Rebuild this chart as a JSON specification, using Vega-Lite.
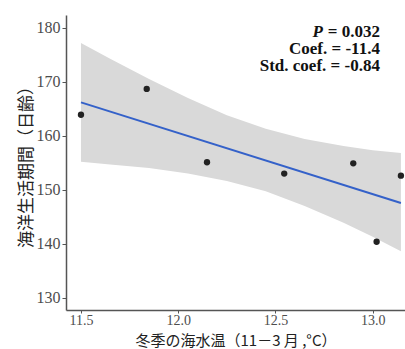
{
  "$schema": "https://vega.github.io/schema/vega-lite/v6.json",
  "width": 339,
  "height": 295,
  "autosize": {"type": "none"},
  "padding": {"left": 66, "top": 15, "right": 0, "bottom": 39},
  "background": "white",
  "config": {
    "view": {"stroke": null},
    "axis": {
      "grid": false,
      "domainColor": "#555555",
      "domainWidth": 1.5,
      "tickColor": "#555555",
      "tickWidth": 1,
      "tickSize": 4,
      "labelFont": "Liberation Serif",
      "labelFontSize": 16,
      "labelColor": "#4d4d4d",
      "titleFont": "Noto Sans CJK JP",
      "titleFontSize": 17,
      "titleFontWeight": "normal",
      "titleColor": "#222222"
    }
  },
  "datasets": {
    "pts": [
      {"temp": 11.5, "days": 163.9},
      {"temp": 11.838, "days": 168.7},
      {"temp": 12.148, "days": 155.1},
      {"temp": 12.545, "days": 153.0},
      {"temp": 12.9, "days": 154.9},
      {"temp": 13.02, "days": 140.35},
      {"temp": 13.145, "days": 152.6}
    ],
    "band": [
      {"temp": 11.5, "lo": 155.2, "hi": 177.2},
      {"temp": 11.65, "lo": 154.7, "hi": 174.3},
      {"temp": 11.85, "lo": 154.05, "hi": 170.55},
      {"temp": 12.05, "lo": 153.0, "hi": 167.0},
      {"temp": 12.25, "lo": 151.6, "hi": 163.8},
      {"temp": 12.45, "lo": 149.7, "hi": 161.3},
      {"temp": 12.65, "lo": 147.0, "hi": 159.4},
      {"temp": 12.85, "lo": 143.9, "hi": 158.1},
      {"temp": 13.0, "lo": 141.3, "hi": 157.3},
      {"temp": 13.145, "lo": 138.6, "hi": 156.8}
    ],
    "notes": [
      {"label": "= 0.032", "tx": 13.037, "ty": 179.3},
      {"label": "Coef. = -11.4", "tx": 13.037, "ty": 176.1},
      {"label": "Std. coef. = -0.84", "tx": 13.037, "ty": 172.9}
    ],
    "pnote": [
      {"label": "P", "tx": 13.037, "ty": 179.3}
    ]
  },
  "layer": [
    {
      "data": {"name": "band"},
      "mark": {"type": "area", "color": "#d9d9d9", "opacity": 1},
      "encoding": {
        "x": {
          "field": "temp", "type": "quantitative",
          "scale": {"domain": [11.423, 13.166], "nice": false, "zero": false},
          "axis": {"values": [11.5, 12.0, 12.5, 13.0], "format": ".1f", "title": "冬季の海水温（11－3 月 ,°C）", "tickSize": 3, "labelPadding": 0, "titlePadding": 6, "labelFontSize": 14, "titleFontSize": 15}
        },
        "y": {
          "field": "hi", "type": "quantitative",
          "scale": {"domain": [127.7, 182.4], "nice": false, "zero": false},
          "axis": {"values": [130, 140, 150, 160, 170, 180], "title": "海洋生活期間（日齢）", "labelPadding": 2, "titlePadding": 1}
        },
        "y2": {"field": "lo"}
      }
    },
    {
      "data": {"name": "pts"},
      "transform": [{"regression": "days", "on": "temp"}],
      "mark": {"type": "line", "color": "#3461c9", "strokeWidth": 2},
      "encoding": {
        "x": {"field": "temp", "type": "quantitative", "scale": {"domain": [11.423, 13.166], "nice": false, "zero": false}},
        "y": {"field": "days", "type": "quantitative", "scale": {"domain": [127.7, 182.4], "nice": false, "zero": false}}
      }
    },
    {
      "data": {"name": "pts"},
      "mark": {"type": "circle", "color": "#222222", "opacity": 1, "size": 40},
      "encoding": {
        "x": {"field": "temp", "type": "quantitative", "scale": {"domain": [11.423, 13.166], "nice": false, "zero": false}},
        "y": {"field": "days", "type": "quantitative", "scale": {"domain": [127.7, 182.4], "nice": false, "zero": false}}
      }
    },
    {
      "data": {"name": "notes"},
      "mark": {"type": "text", "align": "right", "baseline": "middle", "font": "Liberation Serif", "fontWeight": "bold", "fontSize": 17, "color": "#111111"},
      "encoding": {
        "x": {"field": "tx", "type": "quantitative", "scale": {"domain": [11.423, 13.166], "nice": false, "zero": false}},
        "y": {"field": "ty", "type": "quantitative", "scale": {"domain": [127.7, 182.4], "nice": false, "zero": false}},
        "text": {"field": "label"}
      }
    },
    {
      "data": {"name": "pnote"},
      "mark": {"type": "text", "align": "right", "baseline": "middle", "font": "Liberation Serif", "fontWeight": "bold", "fontStyle": "italic", "fontSize": 17, "color": "#111111", "dx": -57},
      "encoding": {
        "x": {"field": "tx", "type": "quantitative", "scale": {"domain": [11.423, 13.166], "nice": false, "zero": false}},
        "y": {"field": "ty", "type": "quantitative", "scale": {"domain": [127.7, 182.4], "nice": false, "zero": false}},
        "text": {"field": "label"}
      }
    }
  ]
}
